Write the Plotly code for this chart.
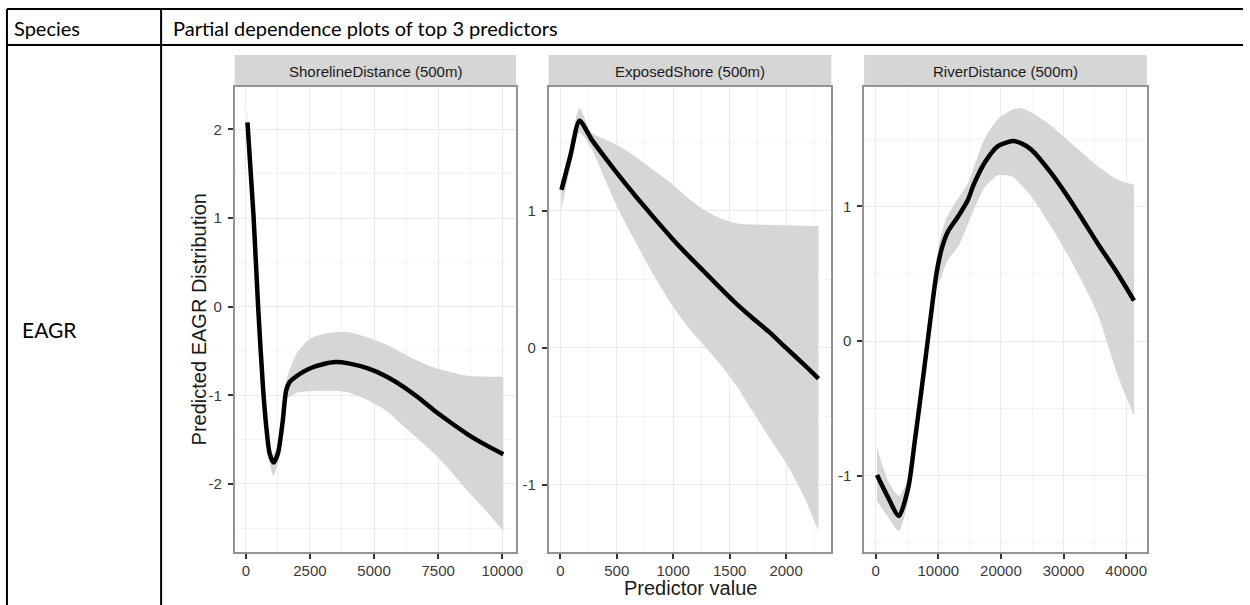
import plotly.graph_objects as go

W, H = 1250, 605

# ---------------- data: partial dependence curves ----------------
shore_x = [65, 300, 480, 670, 800, 930, 1080, 1250, 1440, 1570, 1700, 2000, 2470,
           3000, 3500, 4000, 4790, 5500, 6075, 6700, 7360, 8000, 8650, 9350, 10040]
shore_fit = [2.08, 1.03, 0.0, -0.91, -1.36, -1.66, -1.76, -1.66, -1.29, -0.95, -0.855,
             -0.78, -0.70, -0.65, -0.625, -0.64, -0.70, -0.79, -0.89, -1.02, -1.175,
             -1.31, -1.44, -1.56, -1.665]
shore_hi = [2.24, 1.12, 0.08, -0.84, -1.28, -1.58, -1.66, -1.56, -1.19, -0.85, -0.72,
            -0.52, -0.37, -0.31, -0.29, -0.29, -0.35, -0.43, -0.52, -0.61, -0.69,
            -0.74, -0.78, -0.79, -0.79]
shore_lo = [1.95, 0.95, -0.08, -0.99, -1.45, -1.76, -1.91, -1.77, -1.39, -1.03, -1.02,
            -0.97, -0.955, -0.95, -0.95, -0.97, -1.06, -1.18, -1.33, -1.49, -1.66,
            -1.86, -2.08, -2.30, -2.53]

exposed_x = [10, 90, 170, 278, 400, 527, 675, 821, 1000, 1114, 1250, 1407, 1556,
             1700, 1849, 2000, 2150, 2287]
exposed_fit = [1.153, 1.405, 1.658, 1.52, 1.385, 1.25, 1.10, 0.958, 0.79, 0.69, 0.577,
               0.446, 0.325, 0.22, 0.117, 0.0, -0.115, -0.224]
exposed_hi = [1.22, 1.48, 1.75, 1.57, 1.52, 1.47, 1.39, 1.30, 1.19, 1.105, 1.02, 0.95,
              0.91, 0.90, 0.898, 0.895, 0.892, 0.89]
exposed_lo = [1.01, 1.32, 1.57, 1.45, 1.22, 0.99, 0.76, 0.54, 0.30, 0.17, 0.04, -0.11,
              -0.27, -0.458, -0.65, -0.84, -1.07, -1.335]

river_x = [200, 2000, 3700, 5200, 6250, 7300, 8300, 9000, 9700, 10500, 11500, 13150,
           14740, 15540, 17390, 19520, 21900, 23180, 24820, 28000, 31710, 35420,
           38600, 41250]
river_fit = [-0.995, -1.164, -1.30, -1.09, -0.74, -0.368, 0.0, 0.26, 0.50, 0.68, 0.81,
             0.925, 1.05, 1.15, 1.324, 1.448, 1.485, 1.47, 1.423, 1.249, 1.0, 0.727,
             0.503, 0.30]
river_hi = [-0.79, -1.04, -1.15, -1.02, -0.68, -0.31, 0.07, 0.34, 0.60, 0.80, 0.93,
            1.06, 1.175, 1.27, 1.50, 1.65, 1.72, 1.73, 1.70, 1.60, 1.45, 1.30, 1.20, 1.16]
river_lo = [-1.19, -1.31, -1.41, -1.18, -0.80, -0.43, -0.07, 0.18, 0.40, 0.48, 0.60,
            0.70, 0.87, 0.96, 1.14, 1.23, 1.22, 1.16, 1.075, 0.85, 0.552, 0.204,
            -0.25, -0.555]

panel_titles = ["ShorelineDistance (500m)", "ExposedShore (500m)", "RiverDistance (500m)"]
x_ticks = [[0, 2500, 5000, 7500, 10000], [0, 500, 1000, 1500, 2000],
           [0, 10000, 20000, 30000, 40000]]
y_ticks = [[-2, -1, 0, 1, 2], [-1, 0, 1], [-1, 0, 1]]

y_title = "Predicted EAGR Distribution"
x_title = "Predictor value"
header_left = "Species"
header_right = "Partial dependence plots of top 3 predictors"
species = "EAGR"

# ---------------- layout geometry (pixels) ----------------
panel_px = [(236, 519), (551.7, 836), (869, 1153.3)]
panel_top, panel_bottom = 87, 552
strip_top = 55


def px_x(v):
    return v / W


def px_y(v):
    return 1 - v / H


def expand(vals, frac=0.05):
    lo, hi = min(vals), max(vals)
    pad = (hi - lo) * frac
    return [lo - pad, hi + pad]


series = [
    (shore_x, shore_fit, shore_hi, shore_lo),
    (exposed_x, exposed_fit, exposed_hi, exposed_lo),
    (river_x, river_fit, river_hi, river_lo),
]

RIBBON = "rgb(214,214,214)"
TEXT_FONT = "Liberation Sans, Arial, sans-serif"
TABLE_FONT = "Lato, Carlito, Calibri, sans-serif"

fig = go.Figure()
layout_axes = {}
shapes = []
annotations = []

for i, (xs, fit, hi, lo) in enumerate(series):
    n = "" if i == 0 else str(i + 1)
    xa, ya = "x" + n, "y" + n
    fig.add_trace(go.Scatter(x=xs, y=lo, xaxis=xa, yaxis=ya, mode="lines",
                             line=dict(width=0, shape="spline", smoothing=0.7),
                             hoverinfo="skip", showlegend=False))
    fig.add_trace(go.Scatter(x=xs, y=hi, xaxis=xa, yaxis=ya, mode="lines",
                             line=dict(width=0, shape="spline", smoothing=0.7),
                             fill="tonexty", fillcolor=RIBBON,
                             hoverinfo="skip", showlegend=False))
    fig.add_trace(go.Scatter(x=xs, y=fit, xaxis=xa, yaxis=ya, mode="lines",
                             line=dict(color="black", width=4.5, shape="spline",
                                       smoothing=0.7),
                             showlegend=False))

    x0, x1 = panel_px[i]
    xr = expand(xs)
    yr = expand(hi + lo)
    xstep = x_ticks[i][1] - x_ticks[i][0]
    ystep = y_ticks[i][1] - y_ticks[i][0]
    common = dict(
        showline=True, mirror=True, linecolor="#939393", linewidth=1.5,
        ticks="outside", ticklen=5, tickwidth=1.5, tickcolor="#333333",
        tickfont=dict(family=TEXT_FONT, size=15, color="#3a3a3a"),
        showgrid=True, gridcolor="#ebebeb", gridwidth=1, zeroline=False,
    )
    layout_axes["xaxis" + n] = dict(
        common, domain=[px_x(x0), px_x(x1)], anchor=ya, range=xr,
        tickmode="array", tickvals=x_ticks[i],
        ticktext=[str(v) for v in x_ticks[i]], ticklabelstandoff=-1,
        minor=dict(tickmode="linear", tick0=0, dtick=xstep / 2, showgrid=True,
                   gridcolor="#f5f5f5", gridwidth=1, ticks=""),
    )
    layout_axes["yaxis" + n] = dict(
        common, domain=[px_y(panel_bottom), px_y(panel_top)], anchor=xa, range=yr,
        tickmode="array", tickvals=y_ticks[i],
        ticktext=[str(v) for v in y_ticks[i]], ticklabelstandoff=3,
        minor=dict(tickmode="linear", tick0=0, dtick=ystep / 2, showgrid=True,
                   gridcolor="#f5f5f5", gridwidth=1, ticks=""),
    )

    # facet strip
    shapes.append(dict(type="rect", xref="paper", yref="paper",
                       x0=px_x(x0), x1=px_x(x1), y0=px_y(panel_top), y1=px_y(strip_top),
                       fillcolor="#d6d6d6", line=dict(width=0), layer="below"))
    annotations.append(dict(text=panel_titles[i], xref="paper", yref="paper",
                            x=px_x((x0 + x1) / 2), y=px_y((strip_top + panel_top) / 2),
                            xanchor="center", yanchor="middle", showarrow=False,
                            font=dict(family=TEXT_FONT, size=15, color="#1a1a1a")))

# axis titles
annotations.append(dict(text=y_title, xref="paper", yref="paper",
                        x=px_x(200), y=px_y((panel_top + panel_bottom) / 2),
                        xanchor="center", yanchor="middle", textangle=-90,
                        showarrow=False,
                        font=dict(family=TEXT_FONT, size=20, color="#1a1a1a")))
annotations.append(dict(text=x_title, xref="paper", yref="paper",
                        x=px_x((panel_px[0][0] + panel_px[2][1]) / 2), y=px_y(588),
                        xanchor="center", yanchor="middle", showarrow=False,
                        font=dict(family=TEXT_FONT, size=20, color="#1a1a1a")))

# table frame
LINE = dict(color="black", width=2)
table_left, col_div, top_line, head_line = 7, 162, 9, 45
shapes += [
    dict(type="line", xref="paper", yref="paper", x0=px_x(table_left), x1=1,
         y0=px_y(top_line), y1=px_y(top_line), line=LINE),
    dict(type="line", xref="paper", yref="paper", x0=px_x(table_left), x1=1,
         y0=px_y(head_line), y1=px_y(head_line), line=LINE),
    dict(type="line", xref="paper", yref="paper", x0=px_x(table_left), x1=px_x(table_left),
         y0=px_y(top_line), y1=0, line=LINE),
    dict(type="line", xref="paper", yref="paper", x0=px_x(col_div), x1=px_x(col_div),
         y0=px_y(top_line), y1=0, line=LINE),
]
annotations += [
    dict(text=header_left, xref="paper", yref="paper", x=px_x(12), y=px_y(28),
         xanchor="left", yanchor="middle", showarrow=False,
         font=dict(family=TABLE_FONT, size=20, color="black")),
    dict(text=header_right, xref="paper", yref="paper", x=px_x(172), y=px_y(28),
         xanchor="left", yanchor="middle", showarrow=False,
         font=dict(family=TABLE_FONT, size=20, color="black")),
    dict(text=species, xref="paper", yref="paper", x=px_x(20), y=px_y(329),
         xanchor="left", yanchor="middle", showarrow=False,
         font=dict(family=TABLE_FONT, size=21, color="black")),
]

fig.update_layout(
    width=W, height=H, margin=dict(l=0, r=0, t=0, b=0),
    paper_bgcolor="white", plot_bgcolor="white",
    shapes=shapes, annotations=annotations, showlegend=False,
    **layout_axes,
)

fig.write_html("out.html")
